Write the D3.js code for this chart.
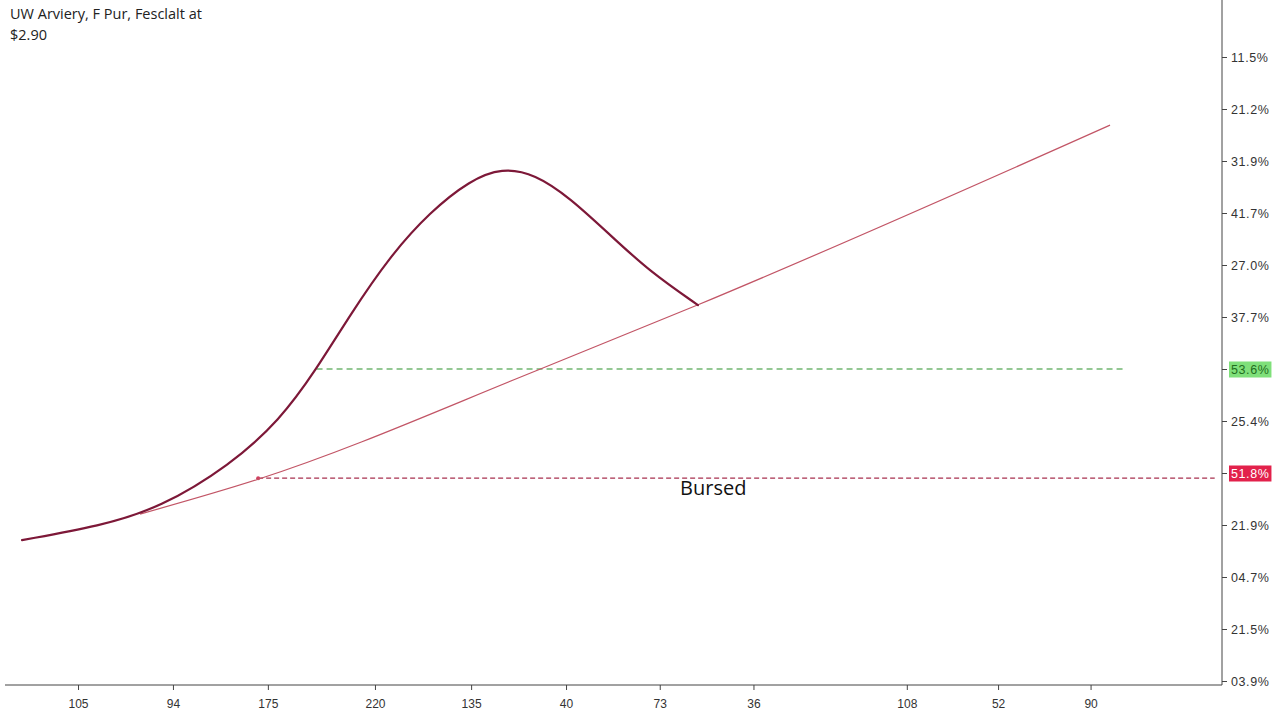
<!DOCTYPE html>
<html>
<head>
<meta charset="utf-8">
<script src="https://cdn.jsdelivr.net/npm/d3@7"></script>
<style>
  html, body { margin: 0; padding: 0; background: #fff; }
  svg { display: block; }
</style>
</head>
<body>
<svg id="chart" width="1280" height="720"></svg>
<script>
// ---- data ----
const titleLines = ["UW Arviery, F Pur, Fesclalt at", "$2.90"];
const xTickValues = [6.0, 13.8, 21.6, 30.4, 38.3, 46.1, 53.8, 61.5, 74.1, 81.6, 89.2];
const xTickLabels = ["105", "94", "175", "220", "135", "40", "73", "36", "108", "52", "90"];
const yTickValues = [12, 11, 10, 9, 8, 7, 6, 5, 4, 3, 2, 1, 0];
const yTickLabels = ["11.5%", "21.2%", "31.9%", "41.7%", "27.0%", "37.7%", "53.6%", "25.4%", "51.8%", "21.9%", "04.7%", "21.5%", "03.9%"];
const curveX = [1.40, 7.81, 12.74, 18.49, 22.60, 25.55, 28.35, 31.63, 34.92, 38.21, 40.84, 43.55, 46.43, 49.71, 53.00, 56.94];
const curveY = [2.71, 2.98, 3.33, 4.15, 5.02, 5.98, 7.04, 8.17, 9.02, 9.63, 9.87, 9.75, 9.29, 8.58, 7.87, 7.23];
const trendX = [11.1, 20.8, 44.0, 56.9, 90.8];
const trendY = [3.21, 3.88, 6.0, 7.23, 10.69];
const greenLevel = { value: 6.0, from: 25.6, to: 91.9, tickIndex: 6 };
const redLevel = { value: 3.9, from: 20.8, to: 99.4, tickIndex: 8 };
const annotation = { text: "Bursed", x: 58.2, y: 3.57 };

(function () {
// ---- layout ----
const svg = d3.select("#chart");
const padL = 5, padR = 1222, padT = 0, padB = 685;
const x = d3.scaleLinear().domain([0, 100]).range([padL, padR]);
const y = d3.scaleLinear().domain([0, 12]).range([681, 57]);

// title
const title = svg.append("text")
  .attr("x", 10).attr("y", 19)
  .attr("font-family", "'Open Sans', 'Noto Sans', sans-serif")
  .attr("font-size", 14.5).attr("fill", "#222");
titleLines.forEach((t, i) => title.append("tspan").attr("x", 10).attr("dy", i === 0 ? 0 : 21).text(t));

// x axis
const xAxis = d3.axisBottom(x).tickValues(xTickValues)
  .tickFormat((d, i) => xTickLabels[i]).tickSize(5).tickSizeOuter(0);
const gx = svg.append("g").attr("transform", `translate(0,${padB})`).call(xAxis);
gx.select(".domain").attr("stroke", "#444").attr("d", `M${padL},0H${padR}`);
gx.selectAll(".tick line").attr("stroke", "#444");
gx.selectAll(".tick text").attr("font-family", "'Liberation Sans', Arial, sans-serif")
  .attr("font-size", 12).attr("fill", "#333").attr("dy", "1.25em");

// y axis (right)
const yAxis = d3.axisRight(y).tickValues(yTickValues)
  .tickFormat((d, i) => yTickLabels[i]).tickSize(5).tickSizeOuter(0).tickPadding(4);
const gy = svg.append("g").attr("transform", `translate(${padR},0)`).call(yAxis);
gy.select(".domain").attr("stroke", "#444").attr("d", `M0,${padT}V${padB}`);
gy.selectAll(".tick line").attr("stroke", "#444");
gy.selectAll(".tick text").attr("font-family", "'Liberation Sans', Arial, sans-serif")
  .attr("font-size", 12.5).attr("fill", "#333").attr("letter-spacing", "0.6px");

// highlighted tick labels
function highlight(level, bg, fg) {
  const tick = gy.selectAll(".tick").filter((d, i) => i === level.tickIndex);
  const txt = tick.select("text");
  const bb = txt.node().getBBox();
  tick.insert("rect", "text")
    .attr("x", bb.x - 2).attr("y", bb.y - 1)
    .attr("width", bb.width + 4).attr("height", bb.height + 2)
    .attr("fill", bg);
  txt.attr("fill", fg);
}
highlight(greenLevel, "#7fe07a", "#1f6e1f");
highlight(redLevel, "#e2214b", "#ffffff");

// horizontal level lines
svg.append("line")
  .attr("x1", x(greenLevel.from)).attr("x2", x(greenLevel.to))
  .attr("y1", y(greenLevel.value)).attr("y2", y(greenLevel.value))
  .attr("stroke", "#2a922a").attr("stroke-width", 1.2).attr("stroke-dasharray", "6,4");
svg.append("line")
  .attr("x1", x(redLevel.from)).attr("x2", x(redLevel.to))
  .attr("y1", y(redLevel.value)).attr("y2", y(redLevel.value))
  .attr("stroke", "#a8304f").attr("stroke-width", 1.2).attr("stroke-dasharray", "5,3");
svg.append("circle")
  .attr("cx", x(redLevel.from)).attr("cy", y(redLevel.value)).attr("r", 2)
  .attr("fill", "#d04060");

// trend line
const trendPts = trendX.map((v, i) => [v, trendY[i]]);
svg.append("path").datum(trendPts)
  .attr("d", d3.line().x(d => x(d[0])).y(d => y(d[1])).curve(d3.curveMonotoneX))
  .attr("fill", "none").attr("stroke", "#c25566").attr("stroke-width", 1.2);

// main curve
const curvePts = curveX.map((v, i) => [v, curveY[i]]);
svg.append("path").datum(curvePts)
  .attr("d", d3.line().x(d => x(d[0])).y(d => y(d[1])).curve(d3.curveBasis))
  .attr("fill", "none").attr("stroke", "#7d1838").attr("stroke-width", 2.2)
  .attr("stroke-linecap", "round");

// annotation
svg.append("text")
  .attr("x", x(annotation.x)).attr("y", y(annotation.y))
  .attr("text-anchor", "middle")
  .attr("font-family", "'Open Sans', 'Noto Sans', sans-serif")
  .attr("font-size", 20).attr("fill", "#111")
  .text(annotation.text);
})();
</script>
</body>
</html>
